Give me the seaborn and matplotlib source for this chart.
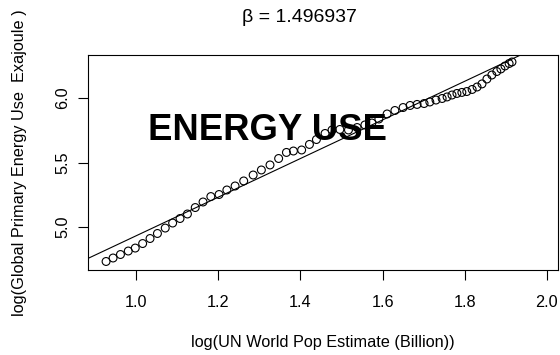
import matplotlib
matplotlib.use("Agg")
import matplotlib.pyplot as plt
import pandas as pd
import seaborn as sns

# ---- data ----
log_pop = [0.927, 0.944, 0.962, 0.981, 0.998, 1.016, 1.034, 1.052, 1.071, 1.089,
           1.107, 1.125, 1.144, 1.163, 1.182, 1.202, 1.221, 1.241, 1.262, 1.285,
           1.305, 1.326, 1.347, 1.366, 1.383, 1.403, 1.422, 1.439, 1.460, 1.477,
           1.496, 1.517, 1.538, 1.557, 1.574, 1.591, 1.611, 1.630, 1.650, 1.667,
           1.684, 1.701, 1.715, 1.730, 1.745, 1.757, 1.769, 1.781, 1.793, 1.805,
           1.818, 1.830, 1.842, 1.854, 1.866, 1.878, 1.888, 1.898, 1.908, 1.915]
log_energy = [4.733, 4.760, 4.787, 4.814, 4.837, 4.872, 4.911, 4.950, 4.992, 5.031,
              5.066, 5.101, 5.151, 5.194, 5.236, 5.252, 5.287, 5.318, 5.357, 5.403,
              5.442, 5.481, 5.531, 5.578, 5.589, 5.597, 5.640, 5.678, 5.725, 5.752,
              5.756, 5.752, 5.771, 5.791, 5.806, 5.837, 5.876, 5.903, 5.926, 5.942,
              5.950, 5.957, 5.969, 5.984, 5.996, 6.008, 6.023, 6.035, 6.043, 6.050,
              6.066, 6.085, 6.109, 6.147, 6.178, 6.205, 6.225, 6.248, 6.267, 6.279]
beta = 1.496937
intercept = 3.435
x_ticks = [1.0, 1.2, 1.4, 1.6, 1.8, 2.0]
x_tick_labels = ["1.0", "1.2", "1.4", "1.6", "1.8", "2.0"]
y_ticks = [5.0, 5.5, 6.0]
y_tick_labels = ["5.0", "5.5", "6.0"]
title_text = "\u03b2 = 1.496937"
annotation = "ENERGY USE"
x_label = "log(UN World Pop Estimate (Billion))"
y_label = "log(Global Primary Energy Use  Exajoule )"

sns.set_theme(style="white")
plt.rcParams['font.family'] = ['Liberation Sans', 'DejaVu Sans']

W, H = 560, 355
fig = plt.figure(figsize=(W / 100, H / 100), dpi=100)
ax = fig.add_axes([88 / W, 1 - 270 / H, 470 / W, 215 / H])

df = pd.DataFrame({"x": log_pop, "y": log_energy})
sns.scatterplot(data=df, x="x", y="y", ax=ax, marker="o", s=32,
                facecolors="none", edgecolor="black", linewidth=0.8, zorder=3)
ax.axline((0.0, intercept), slope=beta, color="black", lw=0.8, zorder=2)

ax.set_xlim(0.883, 2.027)
ax.set_ylim(4.667, 6.333)
ax.set_xticks(x_ticks)
ax.set_xticklabels(x_tick_labels)
ax.set_yticks(y_ticks)
ax.set_yticklabels(y_tick_labels, rotation=90, va="center")

for sp in ax.spines.values():
    sp.set_visible(True)
    sp.set_color("black")
    sp.set_linewidth(0.8)

ax.tick_params(axis="both", which="major", bottom=True, left=True, direction="out",
               length=7.2, width=0.8, color="black", labelsize=11.7, labelcolor="black")
ax.tick_params(axis="x", pad=11.0)
ax.tick_params(axis="y", pad=5.5)

ax.set_xlabel(x_label, fontsize=11.7, color="black", va="baseline")
ax.xaxis.set_label_coords(0.5, (270 - 347.5) / 215)
ax.set_ylabel(y_label, fontsize=11.7, color="black", va="baseline")
ax.yaxis.set_label_coords((24 - 88) / 470, 0.5)

ax.text(1.32, 5.674, annotation, fontsize=26.3, fontweight="bold",
        ha="center", va="baseline", color="black", zorder=4)

fig.text(299.5 / W, 1 - 21.7 / H, title_text, fontsize=14, ha="center",
         va="baseline", color="black")

fig.savefig("out.png", dpi=100, facecolor="white")
